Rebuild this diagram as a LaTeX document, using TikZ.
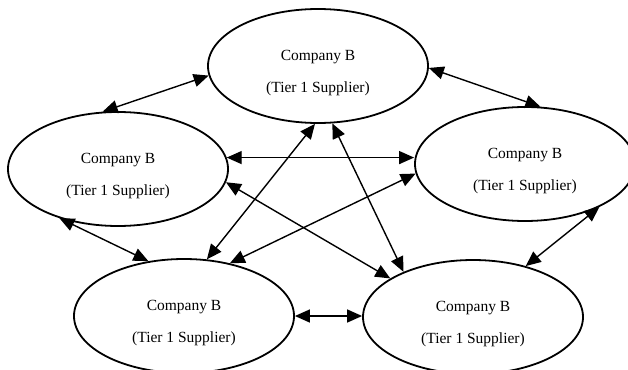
\documentclass[tikz,border=0pt]{standalone}
\usepackage{fontspec}
\setmainfont{Liberation Serif}
\usetikzlibrary{shapes.geometric,arrows.meta}
\newcommand{\tierone}{\rule{0pt}{24pt}Company B\\(Tier 1 Supplier)}
\begin{document}
\begin{tikzpicture}[x=1pt, y=-1pt,
  firm/.style={draw, line width=1.8pt, ellipse, minimum width=220pt, minimum height=114pt,
    inner sep=0pt, align=center, font=\fontsize{15.5}{32}\selectfont},
  link/.style={line width=1.4pt, {Triangle[length=15pt,width=13pt]}-{Triangle[length=15pt,width=13pt]}}]
\useasboundingbox (0,0) rectangle (628,369);
\node[firm] (top) at (318,66) {\tierone};
\node[firm] (left) at (118,169) {\tierone};
\node[firm] (right) at (525,164) {\tierone};
\node[firm] (botleft) at (184,316) {\tierone};
\node[firm] (botright) at (473,317) {\tierone};
\draw[link] (left.105) -- (top.185);
\draw[link] (top.359) -- (right.75);
\draw[link] (left.6) -- (left.6 -| right.west);
\draw[link] (left.220) -- (botleft.123);
\draw[link] (left.353) -- (botright.155);
\draw[link] (top.267) -- (botleft.68);
\draw[link] (top.284) -- (botright.147);
\draw[link] (botleft.49) -- (right.185);
\draw[link] (botleft.east) -- (botleft.east -| botright.west);
\draw[link] (right.330) -- (botright.44);
\end{tikzpicture}
\end{document}
